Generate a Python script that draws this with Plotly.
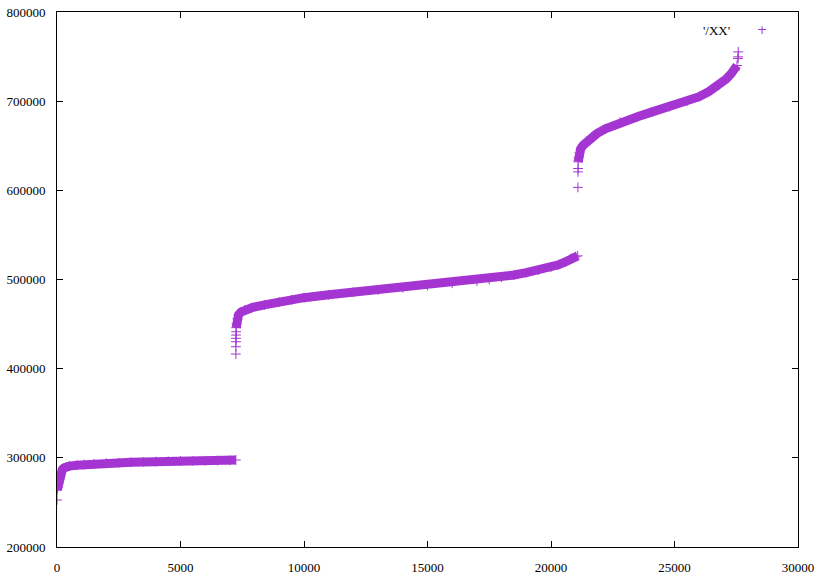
import plotly.graph_objects as go

# ---- data (index, value) ----
seg1_x = [10, 30, 60, 90, 120, 160, 220, 280, 360, 500, 800, 1100, 1500, 2000, 2500, 3000,
          3500, 4000, 4500, 5000, 5500, 6000, 6500, 7000, 7240]
seg1_y = [264000, 266500, 271000, 276500, 281000, 284500, 287000, 288600, 289800, 290700,
          291700, 292400, 293200, 293900, 294500, 295000, 295400, 295800, 296100, 296400,
          296600, 296800, 297000, 297200, 297600]
seg1_sparse_x = [0]
seg1_sparse_y = [252700]

seg2_x = [7255, 7270, 7300, 7350, 7450, 7600, 7900, 8400, 9000, 9500, 10000, 11000, 12000,
          13000, 14000, 15000, 16000, 17000, 17500, 18000, 18500, 19000, 19500, 20000,
          20300, 20600, 20800, 21000, 21080]
seg2_y = [446000, 450500, 456000, 460500, 463500, 465700, 468500, 471600, 474800, 477300,
          479600, 482800, 485800, 488300, 490800, 493300, 495800, 498400, 500000, 502600,
          505000, 507600, 510600, 514000, 516500, 520000, 523500, 525500, 526500]
seg2_sparse_x = [7241, 7243, 7245, 7247, 7249, 7251]
seg2_sparse_y = [416400, 424600, 430200, 434000, 437700, 441400]

seg3_x = [21100, 21120, 21150, 21200, 21300, 21450, 21650, 21850, 22200, 22800, 23500,
          24100, 24800, 25500, 26000, 26400, 26800, 27100, 27300, 27450, 27530]
seg3_y = [632000, 637000, 642000, 646500, 650500, 655000, 659500, 663500, 669000, 676500,
          682500, 688000, 694000, 700000, 705000, 711000, 718000, 725000, 731000, 735000,
          740000]
seg3_sparse_x = [21090, 21093, 21096, 27570, 27575, 27580]
seg3_sparse_y = [603300, 620700, 624500, 747800, 749700, 755300]

series_name = "'/XX'"
x_ticks = [0, 5000, 10000, 15000, 20000, 25000, 30000]
y_ticks = [200000, 300000, 400000, 500000, 600000, 700000, 800000]

COLOR = "#a535d2"
FONT = "Liberation Serif"

fig = go.Figure()

for sx, sy in [(seg1_x, seg1_y), (seg2_x, seg2_y), (seg3_x, seg3_y)]:
    fig.add_trace(go.Scatter(x=sx, y=sy, mode="lines",
                             line=dict(color=COLOR, width=9),
                             showlegend=False, hoverinfo="skip"))

all_x = seg1_sparse_x + seg1_x + seg2_sparse_x + seg2_x + seg3_sparse_x + seg3_x
all_y = seg1_sparse_y + seg1_y + seg2_sparse_y + seg2_y + seg3_sparse_y + seg3_y
fig.add_trace(go.Scatter(x=all_x, y=all_y, mode="markers", name=series_name,
                         marker=dict(symbol="cross-thin", size=7,
                                     line=dict(color=COLOR, width=1)),
                         showlegend=False))

axis_common = dict(showgrid=False, zeroline=False, showline=True, linecolor="black",
                   linewidth=1, ticks="inside", ticklen=6, tickwidth=1,
                   tickcolor="black", mirror="ticks", automargin=False,
                   tickfont=dict(family=FONT, size=13, color="black"))

fig.update_xaxes(range=[0, 30000], tickvals=x_ticks,
                 ticktext=[str(v) for v in x_ticks], ticklabelstandoff=8, **axis_common)
fig.update_yaxes(range=[200000, 800000], tickvals=y_ticks,
                 ticktext=[str(v) for v in y_ticks], ticklabelstandoff=8, **axis_common)

# gnuplot-style key: text then sample symbol
fig.add_annotation(xref="paper", yref="paper", x=0.911, y=0.966, text=series_name,
                   showarrow=False, xanchor="right", yanchor="middle",
                   font=dict(family=FONT, size=13, color="black"))
fig.add_annotation(xref="paper", yref="paper", x=0.951, y=0.966, text="+",
                   showarrow=False, xanchor="center", yanchor="middle",
                   font=dict(family="DejaVu Sans", size=12, color=COLOR))

fig.update_layout(width=820, height=578,
                  margin=dict(l=57, r=22, t=12, b=31, autoexpand=False),
                  paper_bgcolor="white", plot_bgcolor="white",
                  font=dict(family=FONT, size=13, color="black"))

fig.write_html("out.html", config={"displayModeBar": False},
               post_script="document.body.style.margin='0px';document.body.style.overflow='hidden';")
